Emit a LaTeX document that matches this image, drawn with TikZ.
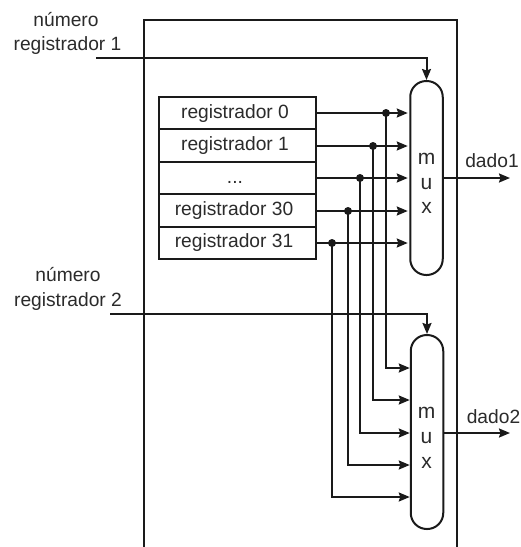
\documentclass[tikz,border=0pt]{standalone}
\usepackage{fontspec}
\setmainfont{Liberation Sans}
\usetikzlibrary{arrows.meta}
\definecolor{ink}{HTML}{1A1A1A}
\definecolor{txt}{HTML}{2B2B2B}
\tikzset{
  wire/.style={draw=ink,line width=2pt},
  arr/.style={wire,-{Stealth[length=11pt,width=9pt,inset=1.5pt]}},
  regbox/.style={draw=ink,line width=2pt,rectangle,minimum width=157pt,minimum height=32.4pt,inner sep=0pt},
  muxbox/.style={draw=ink,line width=2pt,rectangle,rounded corners=16pt,minimum width=32.5pt,minimum height=194pt,inner sep=0pt},
  lab/.style={text=txt,inner sep=0pt,font=\fontsize{19.2}{22}\selectfont},
  muxlab/.style={text=txt,inner sep=0pt,font=\fontsize{21}{23}\selectfont},
  dot/.style={circle,fill=ink,inner sep=0pt,minimum size=8pt}
}
\begin{document}
\begin{tikzpicture}[x=1pt,y=-1pt]
\useasboundingbox (0,0) rectangle (521,547);
\fill[white] (0,0) rectangle (521,547);
% outer block, open at the bottom
\draw[wire] (144,547) -- (144,20) -- (457,20) -- (457,547);
% registers
\node[regbox] (r0) at (237.5,113) {};
\node[regbox] (r1) at (237.5,145.6) {};
\node[regbox] (r2) at (237.5,178) {};
\node[regbox] (r3) at (237.5,210.5) {};
\node[regbox] (r4) at (237.5,243) {};
\node[lab] (t0) at (235,114) {registrador 0};
\node[lab] (t1) at (235,146) {registrador 1};
\node[lab] (t2) at (235,182) {...};
\node[lab] (t3) at (234,211) {registrador 30};
\node[lab] (t4) at (234,243) {registrador 31};
% multiplexers
\node[muxbox] (m1) at (426.5,178) {};
\node[muxbox] (m2) at (427,432) {};
\node[muxlab] (m1m) at (426.5,159) {m};
\node[muxlab] (m1u) at (426.5,184) {u};
\node[muxlab] (m1x) at (426.5,208) {x};
\node[muxlab] (m2m) at (426.5,413) {m};
\node[muxlab] (m2u) at (426.5,438) {u};
\node[muxlab] (m2x) at (426.5,463) {x};
% junctions
\node[dot] (d0) at (386,113) {};
\node[dot] (d1) at (373,146) {};
\node[dot] (d2) at (360,178) {};
\node[dot] (d3) at (348,211) {};
\node[dot] (d4) at (332,243) {};
% register to mux 1
\foreach \r/\y in {r0/113,r1/146,r2/178,r3/211,r4/243}
  \draw[arr,shorten >=1.5pt] (\r.east |- 0,\y) -- (m1.west |- 0,\y);
% register to mux 2
\foreach \d/\y in {d0/368,d1/400,d2/433,d3/465,d4/497}
  \draw[arr] (\d.center) |- (m2.west |- 0,\y);
% selects
\coordinate (s1) at (96,58);
\coordinate (s2) at (110,314);
\draw[arr] (s1) -| (m1.north);
\draw[arr] (s2) -| (m2.north);
% outputs
\coordinate (o1) at (510,178);
\coordinate (o2) at (510,433);
\draw[arr] (m1.east |- o1) -- (o1);
\draw[arr] (m2.east |- o2) -- (o2);
% labels
\node[lab] (n1a) at (66,20) {número};
\node[lab] (n1b) at (67.5,46) {registrador 1};
\node[lab] (n2a) at (68,275) {número};
\node[lab] (n2b) at (68,302) {registrador 2};
\node[lab] (o1t) at (492,161) {dado1};
\node[lab] (o2t) at (493.5,417) {dado2};
\end{tikzpicture}
\end{document}
